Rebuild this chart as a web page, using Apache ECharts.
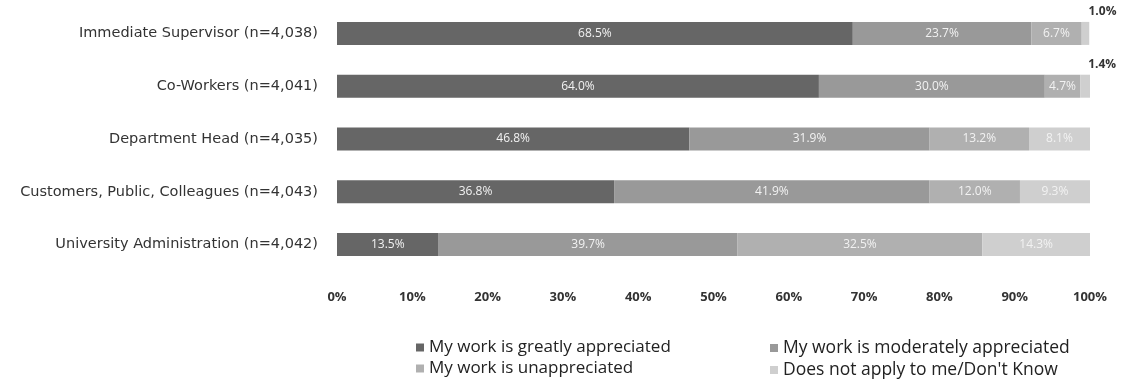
<!DOCTYPE html>
<html><head><meta charset="utf-8">
<script src="https://cdn.jsdelivr.net/npm/echarts@6/dist/echarts.min.js"></script>
<style>html,body{margin:0;padding:0;background:#fff}#c{width:1122px;height:385px}</style>
</head><body><div id="c"></div>
<script>
const categories = ["Immediate Supervisor (n=4,038)","Co-Workers (n=4,041)","Department Head (n=4,035)","Customers, Public, Colleagues (n=4,043)","University Administration (n=4,042)"];
const seriesNames = ["My work is greatly appreciated","My work is moderately appreciated","My work is unappreciated","Does not apply to me/Don't Know"];
const greatly = [68.5, 64.0, 46.8, 36.8, 13.5];
const moderately = [23.7, 30.0, 31.9, 41.9, 39.7];
const unappreciated = [6.7, 4.7, 13.2, 12.0, 32.5];
const notApply = [1.0, 1.4, 8.1, 9.3, 14.3];
const xTicks = [0,10,20,30,40,50,60,70,80,90,100];

const colors = ["#666666","#999999","#b0b0b0","#cfcfcf"];
const values = [greatly, moderately, unappreciated, notApply];
const font = "'Open Sans',sans-serif";

const chart = echarts.init(document.getElementById('c'), null, {renderer:'canvas'});
const series = values.map((arr, si) => ({
  name: seriesNames[si],
  type: 'bar',
  stack: 'all',
  barWidth: 23,
  itemStyle: {color: colors[si]},
  label: {show: true, position: 'inside', formatter: p => p.value.toFixed(1) + '%', color: '#f2f2f2', fontSize: 12, fontFamily: "'Open Sans',sans-serif"},
  data: arr.map((v, i) => {
    if (si === 3 && v < 5) {
      return {value: v, label: {position: 'top', offset: [17, 1], color: '#333', fontWeight: 'bold', fontSize: 12, fontFamily: "'Open Sans',sans-serif"}};
    }
    return v;
  })
}));

chart.setOption({
  animation: false,
  grid: {left: 337, right: 32, top: 7, bottom: 114, containLabel: false},
  xAxis: {
    type: 'value', min: 0, max: 100, interval: 10,
    axisLine: {show: false}, axisTick: {show: false}, splitLine: {show: false},
    axisLabel: {formatter: v => xTicks.includes(v) ? v + '%' : '', margin: 20, color: '#333', fontWeight: 'bold', fontSize: 13, fontFamily: "'Open Sans',sans-serif"}
  },
  yAxis: {
    type: 'category', data: categories, inverse: true,
    axisLine: {show: false}, axisTick: {show: false},
    axisLabel: {margin: 19, color: '#333', fontSize: 14.5, fontFamily: "'DejaVu Sans',sans-serif"}
  },
  legend: [
    {data: [seriesNames[0], seriesNames[2]], orient: 'vertical', left: 411, top: 334, itemWidth: 8, itemHeight: 8, itemGap: 4, icon: 'rect',
     textStyle: {color: '#222', fontSize: 17, fontFamily: font}},
    {data: [seriesNames[1], seriesNames[3]], orient: 'vertical', left: 765, top: 334, itemWidth: 8, itemHeight: 8, itemGap: 4, icon: 'rect',
     textStyle: {color: '#222', fontSize: 17.5, fontFamily: font}}
  ],
  series: series
});
</script></body></html>
